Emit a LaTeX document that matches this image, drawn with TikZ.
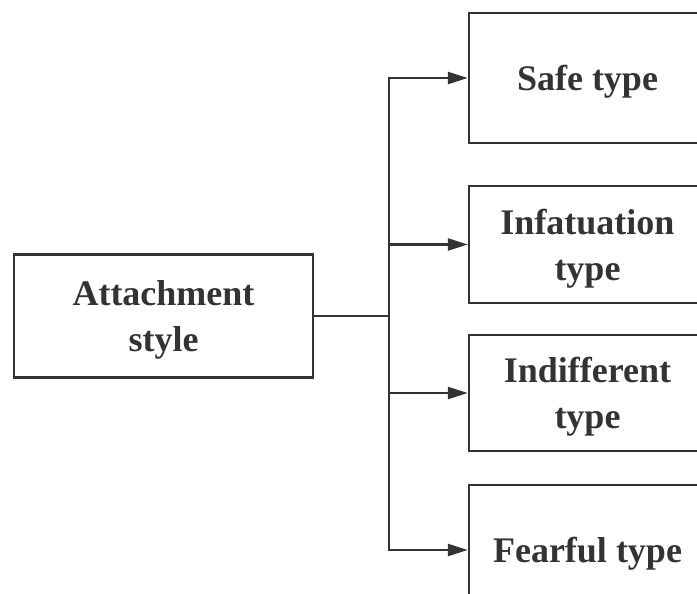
\documentclass[tikz,border=0pt]{standalone}
\usepackage{fontspec}
\setmainfont{Liberation Serif}
\usetikzlibrary{arrows.meta}
\definecolor{inkgray}{HTML}{333333}
\tikzset{
 typebox/.style={draw=inkgray,line width=1.2pt,text=inkgray,align=center,
  font=\bfseries\fontsize{18}{23}\selectfont,inner sep=0pt,text depth=0pt},
 arr/.style={draw=inkgray,line width=1.2pt,-{Triangle[length=10pt,width=6pt]}}
}
\begin{document}
\begin{tikzpicture}[x=0.5pt,y=-0.5pt]
 \useasboundingbox (0,0) rectangle (697,594);
 \clip (0,0) rectangle (697,594);
 \node[typebox,minimum width=149.5pt,minimum height=61.5pt] (attach) at (163.5,316) {Attachment\\style};
 \node[typebox,minimum width=118.5pt,minimum height=65pt] (safe) at (587.5,78) {Safe type};
 \node[typebox,minimum width=118.5pt,minimum height=58.5pt] (infat) at (587.5,244.5) {Infatuation\\type};
 \node[typebox,minimum width=118.5pt,minimum height=58pt] (indiff) at (587.5,393) {Indifferent\\type};
 \node[typebox,minimum width=118.5pt,minimum height=65pt] (fear) at (587.5,550) {Fearful type};
 \coordinate (fork) at (389,316);
 \draw[draw=inkgray,line width=1.2pt] (attach.east) -- (fork);
 \draw[arr] (fork) |- (safe.west);
 \draw[arr] (fork) |- (infat.west);
 \draw[arr] (fork) |- (indiff.west);
 \draw[arr] (fork) |- (fear.west);
\end{tikzpicture}
\end{document}
